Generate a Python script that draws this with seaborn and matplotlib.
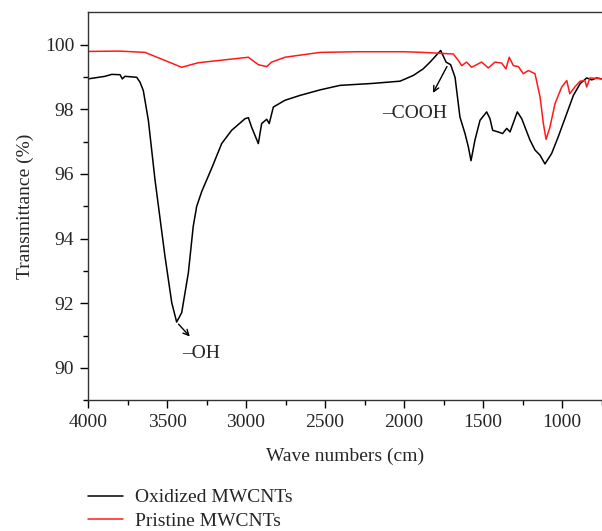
import numpy as np
import pandas as pd
import matplotlib
matplotlib.use("Agg")
import matplotlib.pyplot as plt
from matplotlib.lines import Line2D
import seaborn as sns

# Oxidized MWCNTs (wavenumber, transmittance)
ox_wn = [4000, 3892, 3850, 3797, 3783, 3766, 3692, 3671, 3650, 3618, 3576, 3513, 3470, 3439,
         3407, 3365, 3334, 3312, 3280, 3217, 3154, 3091, 3006, 2985, 2964, 2922, 2901, 2869,
         2853, 2827, 2753, 2658, 2532, 2405, 2200, 2025, 1940, 1879, 1835, 1768, 1734, 1705,
         1677, 1646, 1614, 1593, 1576, 1551, 1519, 1477, 1456, 1439, 1404, 1376, 1350, 1329,
         1283, 1255, 1203, 1171, 1139, 1108, 1066, 1024, 970, 928, 886, 844, 812, 781, 747]
ox_tr = [98.94, 99.02, 99.08, 99.07, 98.94, 99.02, 98.99, 98.84, 98.58, 97.66, 95.82, 93.46, 92.02, 91.42,
         91.71, 92.94, 94.38, 95.00, 95.46, 96.18, 96.94, 97.35, 97.71, 97.74, 97.44, 96.94, 97.56, 97.69,
         97.56, 98.07, 98.28, 98.43, 98.60, 98.74, 98.80, 98.87, 99.05, 99.25, 99.46, 99.82, 99.46, 99.38,
         98.99, 97.76, 97.25, 96.84, 96.41, 97.05, 97.66, 97.92, 97.71, 97.35, 97.30, 97.25, 97.41, 97.30,
         97.92, 97.71, 97.05, 96.74, 96.58, 96.31, 96.63, 97.15, 97.87, 98.43, 98.79, 98.97, 98.91, 98.97, 98.94]

# Pristine MWCNTs (wavenumber, transmittance)
pr_wn = [4000, 3800, 3639, 3513, 3407, 3302, 2985, 2922, 2869, 2838, 2753, 2532, 2300, 2000,
         1879, 1688, 1656, 1635, 1604, 1572, 1509, 1467, 1424, 1382, 1355, 1334, 1308, 1276,
         1245, 1213, 1171, 1139, 1118, 1101, 1076, 1044, 1002, 970, 951, 919, 886, 855, 844,
         823, 747]
pr_tr = [99.79, 99.80, 99.76, 99.51, 99.30, 99.44, 99.61, 99.38, 99.32, 99.46, 99.61, 99.76, 99.78, 99.78,
         99.76, 99.71, 99.51, 99.35, 99.46, 99.30, 99.46, 99.28, 99.46, 99.43, 99.25, 99.61, 99.35, 99.32,
         99.10, 99.20, 99.10, 98.38, 97.56, 97.07, 97.46, 98.18, 98.69, 98.89, 98.48, 98.69, 98.87, 98.89, 98.69,
         98.97, 98.94]

series_names = ["Oxidized MWCNTs", "Pristine MWCNTs"]
series_colors = ["#000000", "#ff1a1a"]

df = pd.concat([
    pd.DataFrame({"wn": ox_wn, "T": ox_tr, "series": series_names[0]}),
    pd.DataFrame({"wn": pr_wn, "T": pr_tr, "series": series_names[1]}),
], ignore_index=True)

sns.set_style("ticks")
plt.rcParams["font.family"] = ["Liberation Serif", "DejaVu Serif"]
FS = 14

fig = plt.figure(figsize=(6.02, 5.31), dpi=100)
ax = fig.add_axes([88 / 602, (531 - 400.3) / 531, (602 - 88) / 602, (400.3 - 12.3) / 531])

sns.lineplot(data=df, x="wn", y="T", hue="series", palette=series_colors,
             hue_order=series_names, sort=False, estimator=None, linewidth=1.1, ax=ax, legend=False)

ax.set_xlim(4000, 747)
ax.set_ylim(89, 101)
ax.set_xticks([4000, 3500, 3000, 2500, 2000, 1500, 1000])
ax.set_xticks(np.arange(3750, 700, -500), minor=True)
ax.set_yticks([90, 92, 94, 96, 98, 100])
ax.set_yticks([89, 91, 93, 95, 97, 99], minor=True)
ax.tick_params(axis="both", which="major", direction="out", length=6, width=1, labelsize=FS,
               color="black", pad=4)
ax.tick_params(axis="both", which="minor", direction="out", length=3.5, width=1, color="black")
for s in ["left", "bottom", "top"]:
    ax.spines[s].set_color("#333333")
    ax.spines[s].set_linewidth(1.0)
ax.spines["right"].set_visible(False)
ax.set_xlabel("Wave numbers (cm)", fontsize=FS, labelpad=12)
ax.set_ylabel("Transmittance (%)", fontsize=FS, labelpad=8)

ax.annotate("", xy=(1825, 98.43), xytext=(1720, 99.4),
            arrowprops=dict(arrowstyle="->", color="black", lw=1.0))
ax.text(1930, 97.87, "\u2013COOH", ha="center", va="center", fontsize=FS)
ax.annotate("", xy=(3344, 90.91), xytext=(3439, 91.42),
            arrowprops=dict(arrowstyle="->", color="black", lw=1.0))
ax.text(3285, 90.45, "\u2013OH", ha="center", va="center", fontsize=FS)

handles = [Line2D([], [], color=c, lw=1.1) for c in series_colors]
fig.legend(handles, series_names, loc="upper left", bbox_to_anchor=(84 / 602, 1 - 485 / 531),
           frameon=False, fontsize=FS, handlelength=1.8, handletextpad=0.62, labelspacing=0.3,
           borderaxespad=0, borderpad=0.2)

fig.savefig("out.png", dpi=100)
